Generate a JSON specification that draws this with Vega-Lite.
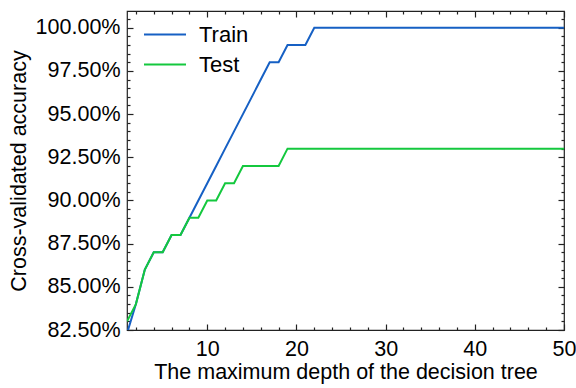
{
  "$schema": "https://vega.github.io/schema/vega-lite/v6.json",
  "width": 437,
  "height": 319,
  "autosize": {"type": "none"},
  "padding": {"left": 127, "top": 11, "right": 12, "bottom": 58},
  "config": {
    "font": "Liberation Sans",
    "view": {"stroke": "#222222", "strokeWidth": 1.2},
    "axis": {
      "domain": false,
      "grid": false,
      "labelFont": "Liberation Sans",
      "labelFontSize": 21.5,
      "labelColor": "#000000",
      "titleFont": "Liberation Sans",
      "titleFontSize": 21.5,
      "titleFontWeight": "normal",
      "titleColor": "#000000",
      "tickColor": "#222222",
      "tickWidth": 1.2,
      "labelFlush": false,
      "labelOverlap": false
    },
    "legend": {
      "labelFont": "Liberation Sans",
      "labelFontSize": 22,
      "labelColor": "#000000"
    }
  },
  "data": {
    "values": [
      {"depth": 1, "set": "Train", "accuracy": 0.823},
      {"depth": 2, "set": "Train", "accuracy": 0.84},
      {"depth": 3, "set": "Train", "accuracy": 0.86},
      {"depth": 4, "set": "Train", "accuracy": 0.87},
      {"depth": 5, "set": "Train", "accuracy": 0.87},
      {"depth": 6, "set": "Train", "accuracy": 0.88},
      {"depth": 7, "set": "Train", "accuracy": 0.88},
      {"depth": 8, "set": "Train", "accuracy": 0.89},
      {"depth": 9, "set": "Train", "accuracy": 0.90},
      {"depth": 10, "set": "Train", "accuracy": 0.91},
      {"depth": 11, "set": "Train", "accuracy": 0.92},
      {"depth": 12, "set": "Train", "accuracy": 0.93},
      {"depth": 13, "set": "Train", "accuracy": 0.94},
      {"depth": 14, "set": "Train", "accuracy": 0.95},
      {"depth": 15, "set": "Train", "accuracy": 0.96},
      {"depth": 16, "set": "Train", "accuracy": 0.97},
      {"depth": 17, "set": "Train", "accuracy": 0.98},
      {"depth": 18, "set": "Train", "accuracy": 0.98},
      {"depth": 19, "set": "Train", "accuracy": 0.99},
      {"depth": 20, "set": "Train", "accuracy": 0.99},
      {"depth": 21, "set": "Train", "accuracy": 0.99},
      {"depth": 22, "set": "Train", "accuracy": 1.0},
      {"depth": 23, "set": "Train", "accuracy": 1.0},
      {"depth": 24, "set": "Train", "accuracy": 1.0},
      {"depth": 25, "set": "Train", "accuracy": 1.0},
      {"depth": 26, "set": "Train", "accuracy": 1.0},
      {"depth": 27, "set": "Train", "accuracy": 1.0},
      {"depth": 28, "set": "Train", "accuracy": 1.0},
      {"depth": 29, "set": "Train", "accuracy": 1.0},
      {"depth": 30, "set": "Train", "accuracy": 1.0},
      {"depth": 31, "set": "Train", "accuracy": 1.0},
      {"depth": 32, "set": "Train", "accuracy": 1.0},
      {"depth": 33, "set": "Train", "accuracy": 1.0},
      {"depth": 34, "set": "Train", "accuracy": 1.0},
      {"depth": 35, "set": "Train", "accuracy": 1.0},
      {"depth": 36, "set": "Train", "accuracy": 1.0},
      {"depth": 37, "set": "Train", "accuracy": 1.0},
      {"depth": 38, "set": "Train", "accuracy": 1.0},
      {"depth": 39, "set": "Train", "accuracy": 1.0},
      {"depth": 40, "set": "Train", "accuracy": 1.0},
      {"depth": 41, "set": "Train", "accuracy": 1.0},
      {"depth": 42, "set": "Train", "accuracy": 1.0},
      {"depth": 43, "set": "Train", "accuracy": 1.0},
      {"depth": 44, "set": "Train", "accuracy": 1.0},
      {"depth": 45, "set": "Train", "accuracy": 1.0},
      {"depth": 46, "set": "Train", "accuracy": 1.0},
      {"depth": 47, "set": "Train", "accuracy": 1.0},
      {"depth": 48, "set": "Train", "accuracy": 1.0},
      {"depth": 49, "set": "Train", "accuracy": 1.0},
      {"depth": 50, "set": "Train", "accuracy": 1.0},
      {"depth": 1, "set": "Test", "accuracy": 0.83},
      {"depth": 2, "set": "Test", "accuracy": 0.84},
      {"depth": 3, "set": "Test", "accuracy": 0.86},
      {"depth": 4, "set": "Test", "accuracy": 0.87},
      {"depth": 5, "set": "Test", "accuracy": 0.87},
      {"depth": 6, "set": "Test", "accuracy": 0.88},
      {"depth": 7, "set": "Test", "accuracy": 0.88},
      {"depth": 8, "set": "Test", "accuracy": 0.89},
      {"depth": 9, "set": "Test", "accuracy": 0.89},
      {"depth": 10, "set": "Test", "accuracy": 0.90},
      {"depth": 11, "set": "Test", "accuracy": 0.90},
      {"depth": 12, "set": "Test", "accuracy": 0.91},
      {"depth": 13, "set": "Test", "accuracy": 0.91},
      {"depth": 14, "set": "Test", "accuracy": 0.92},
      {"depth": 15, "set": "Test", "accuracy": 0.92},
      {"depth": 16, "set": "Test", "accuracy": 0.92},
      {"depth": 17, "set": "Test", "accuracy": 0.92},
      {"depth": 18, "set": "Test", "accuracy": 0.92},
      {"depth": 19, "set": "Test", "accuracy": 0.93},
      {"depth": 20, "set": "Test", "accuracy": 0.93},
      {"depth": 21, "set": "Test", "accuracy": 0.93},
      {"depth": 22, "set": "Test", "accuracy": 0.93},
      {"depth": 23, "set": "Test", "accuracy": 0.93},
      {"depth": 24, "set": "Test", "accuracy": 0.93},
      {"depth": 25, "set": "Test", "accuracy": 0.93},
      {"depth": 26, "set": "Test", "accuracy": 0.93},
      {"depth": 27, "set": "Test", "accuracy": 0.93},
      {"depth": 28, "set": "Test", "accuracy": 0.93},
      {"depth": 29, "set": "Test", "accuracy": 0.93},
      {"depth": 30, "set": "Test", "accuracy": 0.93},
      {"depth": 31, "set": "Test", "accuracy": 0.93},
      {"depth": 32, "set": "Test", "accuracy": 0.93},
      {"depth": 33, "set": "Test", "accuracy": 0.93},
      {"depth": 34, "set": "Test", "accuracy": 0.93},
      {"depth": 35, "set": "Test", "accuracy": 0.93},
      {"depth": 36, "set": "Test", "accuracy": 0.93},
      {"depth": 37, "set": "Test", "accuracy": 0.93},
      {"depth": 38, "set": "Test", "accuracy": 0.93},
      {"depth": 39, "set": "Test", "accuracy": 0.93},
      {"depth": 40, "set": "Test", "accuracy": 0.93},
      {"depth": 41, "set": "Test", "accuracy": 0.93},
      {"depth": 42, "set": "Test", "accuracy": 0.93},
      {"depth": 43, "set": "Test", "accuracy": 0.93},
      {"depth": 44, "set": "Test", "accuracy": 0.93},
      {"depth": 45, "set": "Test", "accuracy": 0.93},
      {"depth": 46, "set": "Test", "accuracy": 0.93},
      {"depth": 47, "set": "Test", "accuracy": 0.93},
      {"depth": 48, "set": "Test", "accuracy": 0.93},
      {"depth": 49, "set": "Test", "accuracy": 0.93},
      {"depth": 50, "set": "Test", "accuracy": 0.93}
    ]
  },
  "layer": [
    {
      "mark": {"type": "line", "strokeWidth": 2, "clip": true},
      "encoding": {
        "x": {
          "field": "depth", "type": "quantitative",
          "scale": {"domain": [1, 50], "nice": false, "zero": false},
          "axis": {
            "orient": "bottom", "values": [10, 20, 30, 40, 50],
            "tickSize": -6, "labelPadding": 14,
            "title": "The maximum depth of the decision tree", "titlePadding": 2
          }
        },
        "y": {
          "field": "accuracy", "type": "quantitative",
          "scale": {"domain": [0.825, 1.0097], "nice": false, "zero": false},
          "axis": {
            "orient": "left",
            "values": [0.825, 0.85, 0.875, 0.9, 0.925, 0.95, 0.975, 1.0],
            "format": ".2%", "tickSize": -6, "labelPadding": 13,
            "title": "Cross-validated accuracy", "titlePadding": 5
          }
        },
        "color": {
          "field": "set", "type": "nominal",
          "scale": {"domain": ["Train", "Test"], "range": ["#1660c4", "#14c83e"]},
          "legend": {
            "title": null, "orient": "none", "legendX": 26.5, "legendY": 12,
            "symbolType": "M-2,0H2", "symbolSize": 441, "symbolStrokeWidth": 2,
            "labelOffset": 22.5, "rowPadding": 7
          }
        },
        "order": {"field": "depth"}
      }
    },
    {
      "mark": {"type": "point", "opacity": 0},
      "encoding": {
        "x": {
          "field": "depth", "type": "quantitative",
          "axis": {
            "orient": "bottom", "title": null, "labels": false, "tickSize": -3,
            "values": [2, 4, 6, 8, 12, 14, 16, 18, 22, 24, 26, 28, 32, 34, 36, 38, 42, 44, 46, 48]
          }
        },
        "y": {
          "field": "accuracy", "type": "quantitative",
          "axis": {
            "orient": "left", "title": null, "labels": false, "tickSize": -3,
            "values": [0.83, 0.835, 0.84, 0.845, 0.855, 0.86, 0.865, 0.87, 0.88, 0.885, 0.89, 0.895, 0.905, 0.91, 0.915, 0.92, 0.93, 0.935, 0.94, 0.945, 0.955, 0.96, 0.965, 0.97, 0.98, 0.985, 0.99, 0.995, 1.005]
          }
        }
      }
    },
    {
      "mark": {"type": "point", "opacity": 0},
      "encoding": {
        "x": {
          "field": "depth", "type": "quantitative",
          "axis": {
            "orient": "top", "title": null, "labels": false, "tickSize": -6,
            "values": [10, 20, 30, 40, 50]
          }
        },
        "y": {
          "field": "accuracy", "type": "quantitative",
          "axis": {
            "orient": "right", "title": null, "labels": false, "tickSize": -6,
            "values": [0.825, 0.85, 0.875, 0.9, 0.925, 0.95, 0.975, 1.0]
          }
        }
      }
    },
    {
      "mark": {"type": "point", "opacity": 0},
      "encoding": {
        "x": {
          "field": "depth", "type": "quantitative",
          "axis": {
            "orient": "top", "title": null, "labels": false, "tickSize": -3,
            "values": [2, 4, 6, 8, 12, 14, 16, 18, 22, 24, 26, 28, 32, 34, 36, 38, 42, 44, 46, 48]
          }
        },
        "y": {
          "field": "accuracy", "type": "quantitative",
          "axis": {
            "orient": "right", "title": null, "labels": false, "tickSize": -3,
            "values": [0.83, 0.835, 0.84, 0.845, 0.855, 0.86, 0.865, 0.87, 0.88, 0.885, 0.89, 0.895, 0.905, 0.91, 0.915, 0.92, 0.93, 0.935, 0.94, 0.945, 0.955, 0.96, 0.965, 0.97, 0.98, 0.985, 0.99, 0.995, 1.005]
          }
        }
      }
    }
  ],
  "resolve": {"axis": {"x": "independent", "y": "independent"}}
}
